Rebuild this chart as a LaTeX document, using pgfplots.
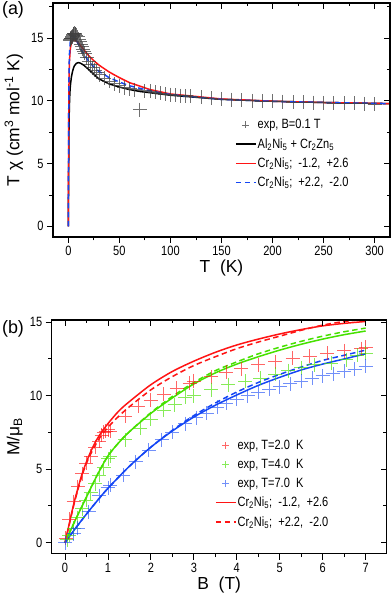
\documentclass[border=0pt]{standalone}
\usepackage{fontspec}
\setmainfont{Liberation Sans}
\newfontfamily\narrow{Liberation Sans}[FakeStretch=0.82]
\usepackage{pgfplots}
\pgfplotsset{compat=1.18}

\definecolor{cred}{RGB}{255,20,20}
\definecolor{cgreen}{RGB}{70,225,0}
\definecolor{cblue}{RGB}{20,70,245}

\pgfplotsset{
  base/.style={scale only axis, anchor=north west,
    axis line style={line width=1.1pt},
    major tick style={line width=0.9pt, black},
    minor tick style={line width=0.9pt, black},
    major tick length=6bp, minor tick length=3.5bp,
    /pgf/number format/assume math mode=true,
    tick label style={font=\narrow\fontsize{13.5}{14}\selectfont}},
  outer/.style={tick align=outside, xtick pos=left, ytick pos=left},
  inner/.style={tick align=inside, xtick pos=right, ytick pos=right,
    xticklabels={}, yticklabels={}},
  topax/.style={base, at={(53bp,592bp)}, width=337bp, height=234bp,
    xmin=-15, xmax=315, ymin=-0.85, ymax=17.8,
    xtick={0,50,...,300}, minor xtick={25,75,...,275},
    ytick={0,5,10,15}, minor ytick={2.5,7.5,12.5,17.5}},
  botax/.style={base, at={(51.7bp,275bp)}, width=335bp, height=233.7bp,
    xmin=-0.31, xmax=7.49, ymin=-0.75, ymax=15.15,
    xtick={0,1,...,7}, minor xtick={0.5,1.5,...,6.5},
    ytick={0,5,10,15}, minor ytick={2.5,7.5,12.5}},
  cross/.style={only marks, mark=+, mark size=7bp, mark options={line width=0.9pt},
    legend image post style={mark size=3.5bp}},
  curve/.style={line width=1.5pt},
  dashd/.style={line width=1.5pt, dash pattern=on 5.5bp off 3.5bp},
  lgd/.style={legend style={draw=none, fill=none, inner sep=0pt,
    font=\narrow\fontsize{13.5}{14}\selectfont, row sep=6bp,
    nodes={inner sep=1bp}}, legend cell align=left,
    legend image code/.code={\draw[mark repeat=2, mark phase=2, ##1]
      plot coordinates {(0bp,0bp) (10bp,0bp) (20bp,0bp)};}},
}
\newcommand\labfont{\fontsize{17.5}{18}\selectfont}

\begin{document}
\begin{tikzpicture}
\useasboundingbox (0,0) rectangle (392bp,595bp);
\node[font=\fontsize{18}{18}\selectfont] at (13bp,585bp) {(a)};
\node[font=\fontsize{18}{18}\selectfont] at (13bp,266bp) {(b)};

% ---- (a) T chi vs T
\begin{axis}[topax, outer, lgd,
  xlabel={T\ \ (K)},
  ylabel={T\ χ\ (cm\textsuperscript{3}\ mol\textsuperscript{-1}\ K)},
  every axis x label/.style={at={(axis description cs:0.5,-0.132)}, anchor=center, font=\labfont},
  every axis y label/.style={at={(axis description cs:-0.116,0.5)}, rotate=90, anchor=center, font=\labfont},
  legend style={at={(axis description cs:0.54,0.507)}, anchor=north west}]
\addplot[cross, color=black!75, opacity=0.75] coordinates {
(1.8,14.85) (2,14.9) (2.2,14.95) (2.5,15.0) (3,15.0) (3.5,15.05) (4,15.1)
(4.5,15.2) (5,15.3) (5.5,15.35) (6,15.4) (6.5,15.35) (7,15.3) (8,15.25)
(9,15.1) (10,14.9) (11,14.7) (12,14.5) (13,14.3) (14,14.1) (15,13.95)
(16,13.8) (18,13.45) (20,13.15) (22,12.9) (24,12.65) (26,12.45) (28,12.3)
(30,12.1) (35,11.8) (40,11.55) (45,11.35) (50,11.2) (55,11.05) (60,10.95)
(65,10.9) (70,9.3) (75,10.8) (80,10.75) (85,10.7) (90,10.6) (95,10.55)
(100,10.5) (105,10.45) (110,10.42) (115,10.4) (120,10.35) (130,10.28)
(140,10.2) (150,10.15) (160,10.1) (170,10.05) (180,10.0) (190,9.97)
(200,9.95) (210,9.93) (220,9.9) (230,9.88) (240,9.86) (250,9.84)
(260,9.82) (270,9.8) (280,9.79) (290,9.77) (300,9.75)};
\addlegendentry{exp,\ B=0.1\ T}
\addplot[black, curve] coordinates {
(0,0) (0.3,4) (0.7,8) (1,9.5) (1.5,10.6) (2,11.2) (3,11.9) (4,12.3)
(5,12.6) (6,12.8) (8,13.0) (10,13.05) (12,13.0) (15,12.85) (20,12.5)
(25,12.1) (30,11.75) (40,11.35) (50,11.1) (60,10.9) (70,10.75) (80,10.65)
(100,10.45) (150,10.12) (200,9.97) (250,9.87) (300,9.8) (315,9.78)};
\addlegendentry{Al\textsubscript{2}Ni\textsubscript{5}\ +\ Cr\textsubscript{2}Zn\textsubscript{5}}
\addplot[cred, curve] coordinates {
(0,0) (0.2,5) (0.5,10.5) (1,13) (2,14.2) (3,14.6) (4,14.8) (5,14.85)
(6,14.85) (8,14.75) (10,14.6) (12,14.4) (15,14.1) (20,13.6) (25,13.2)
(30,12.85) (40,12.3) (50,11.85) (60,11.45) (80,10.9) (100,10.55)
(150,10.15) (200,9.97) (250,9.87) (300,9.8) (315,9.78)};
\addlegendentry{Cr\textsubscript{2}Ni\textsubscript{5};\ \ -1.2,\ \ +2.6}
\addplot[cblue, dashd] coordinates {
(0,0) (0.2,5) (0.5,11) (1,13.6) (2,14.8) (3,15.1) (4,15.2) (5,15.15)
(6,15.05) (8,14.8) (10,14.5) (12,14.2) (15,13.75) (20,13.15) (25,12.7)
(30,12.35) (40,11.85) (50,11.5) (60,11.2) (80,10.8) (100,10.5)
(150,10.12) (200,9.96) (250,9.87) (300,9.8) (315,9.78)};
\addlegendentry{Cr\textsubscript{2}Ni\textsubscript{5};\ \ +2.2,\ \ -2.0}
\end{axis}
\begin{axis}[topax, inner]
\end{axis}

% ---- (b) M vs B
\begin{axis}[botax, outer, lgd,
  xlabel={B\ \ (T)},
  ylabel={M/μ\textsubscript{B}},
  every axis x label/.style={at={(axis description cs:0.5,-0.134)}, anchor=center, font=\labfont},
  every axis y label/.style={at={(axis description cs:-0.11,0.5)}, rotate=90, anchor=center, font=\labfont},
  legend style={at={(axis description cs:0.487,0.49)}, anchor=north west}]
\addplot[cross, color=cred, opacity=0.65] coordinates {
(0.02,0.3) (0.1,1.6) (0.2,2.8) (0.3,3.8) (0.4,4.7) (0.5,5.4) (0.6,5.9)
(0.7,6.5) (0.8,6.9) (0.85,7.3) (0.9,7.5) (0.95,7.6) (1.0,7.7) (1.05,7.6)
(1.4,8.6) (1.7,9.3) (2.0,9.7) (2.3,10.1) (2.6,10.5) (2.9,10.85) (3.0,11.0)
(3.4,11.3) (3.75,11.6) (4.1,11.85) (4.5,12.1) (4.9,12.3) (5.3,12.55)
(5.7,12.7) (6.1,12.9) (6.5,13.05) (6.9,13.2) (7.0,13.3)};
\addlegendentry{exp,\ T=2.0\ \ K}
\addplot[cross, color=cgreen, opacity=0.65] coordinates {
(0.05,0.2) (0.1,0.5) (0.2,1.0) (0.3,1.7) (0.4,2.3) (0.5,2.9) (0.6,3.4)
(0.7,4.0) (0.8,4.6) (0.9,5.1) (1.0,5.7) (1.05,5.9) (1.4,7.0) (1.75,7.8)
(2.0,8.4) (2.3,9.0) (2.55,9.4) (2.8,9.9) (3.0,10.0) (3.4,10.4) (3.8,10.75)
(4.2,11.0) (4.55,11.2) (4.9,11.45) (5.2,11.7) (5.5,11.9) (5.8,12.1)
(6.2,12.2) (6.55,12.45) (6.8,12.75) (7.0,12.9)};
\addlegendentry{exp,\ T=4.0\ \ K}
\addplot[cross, color=cblue, opacity=0.6] coordinates {
(0.0,0.0) (0.2,0.6) (0.3,1.0) (0.55,2.1) (0.8,3.2) (1.0,3.75) (1.05,3.9)
(1.35,4.6) (1.65,5.5) (1.95,6.3) (2.25,7.0) (2.5,7.5) (2.8,8.1) (3.05,8.5)
(3.3,8.8) (3.55,9.2) (3.75,9.5) (4.0,9.75) (4.25,10.0) (4.5,10.25)
(4.75,10.45) (5.0,10.6) (5.25,10.8) (5.5,11.0) (5.75,11.2) (6.0,11.35)
(6.25,11.5) (6.5,11.65) (6.75,11.8) (7.0,12.0)};
\addlegendentry{exp,\ T=7.0\ \ K}
\addplot[cred, curve, smooth] coordinates {
(0,0) (0.1,1.3) (0.2,2.6) (0.3,3.7) (0.4,4.7) (0.5,5.5) (0.6,6.2) (0.7,6.8)
(0.8,7.3) (1.0,8.1) (1.25,8.95) (1.5,9.6) (2,10.75) (2.5,11.65) (3,12.35)
(3.5,12.95) (4,13.45) (4.5,13.85) (5,14.2) (5.5,14.5) (6,14.75) (6.5,14.92)
(7,15.05)};
\addlegendentry{Cr\textsubscript{2}Ni\textsubscript{5};\ \ -1.2,\ \ +2.6}
\addplot[cred, dashd, smooth] coordinates {
(0,0) (0.1,1.25) (0.2,2.5) (0.3,3.6) (0.4,4.6) (0.5,5.4) (0.6,6.05)
(0.7,6.6) (0.8,7.1) (1.0,7.85) (1.25,8.6) (1.5,9.25) (2,10.4) (2.5,11.3)
(3,12.05) (3.5,12.65) (4,13.2) (4.5,13.65) (5,14.05) (5.5,14.45) (6,14.8)
(6.5,15.05) (7,15.2)};
\addlegendentry{Cr\textsubscript{2}Ni\textsubscript{5};\ \ +2.2,\ \ -2.0}
\addplot[cgreen, curve, smooth, forget plot] coordinates {
(0,0) (0.25,1.6) (0.5,3.1) (0.75,4.6) (1,5.9) (1.25,6.8) (1.5,7.55) (2,8.8)
(2.5,9.85) (3,10.8) (3.5,11.55) (4,12.15) (4.5,12.65) (5,13.1) (5.5,13.5)
(6,13.85) (6.5,14.15) (7,14.4)};
\addplot[cgreen, dashd, smooth, forget plot] coordinates {
(0,0) (0.25,1.6) (0.5,3.1) (0.75,4.6) (1,5.9) (1.25,6.8) (1.5,7.55) (2,8.85)
(2.5,9.95) (3,10.9) (3.5,11.7) (4,12.3) (4.5,12.85) (5,13.3) (5.5,13.7)
(6,14.05) (6.5,14.35) (7,14.6)};
\addplot[cblue, curve, smooth, forget plot] coordinates {
(0,0) (0.25,1.0) (0.5,1.95) (0.75,2.85) (1,3.7) (1.5,5.2) (2,6.5) (2.5,7.6)
(3,8.55) (3.5,9.35) (4,10.05) (4.5,10.7) (5,11.25) (5.5,11.75) (6,12.15)
(6.5,12.5) (7,12.85)};
\addplot[cblue, dashd, smooth, forget plot] coordinates {
(0,0) (0.25,1.0) (0.5,1.95) (0.75,2.85) (1,3.7) (1.5,5.2) (2,6.5) (2.5,7.65)
(3,8.65) (3.5,9.5) (4,10.25) (4.5,10.9) (5,11.45) (5.5,11.95) (6,12.4)
(6.5,12.75) (7,13.1)};
\end{axis}
\begin{axis}[botax, inner]
\end{axis}
\end{tikzpicture}
\end{document}
